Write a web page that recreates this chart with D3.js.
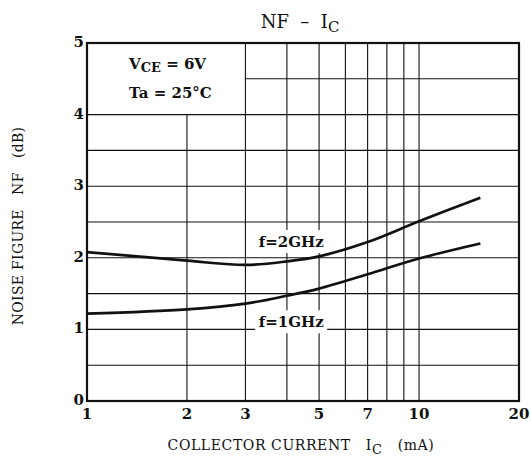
<!DOCTYPE html>
<html>
<head>
<meta charset="utf-8">
<script src="https://cdn.jsdelivr.net/npm/d3@7"></script>
<style>
  body { margin: 0; background: #fff; }
  svg text { font-family: "DejaVu Serif", "Liberation Serif", serif; fill: #111; white-space: pre; }
</style>
</head>
<body>
<svg id="chart" width="531" height="461"></svg>
<script>
// values
const currents = [1, 2, 3, 4, 5, 7, 10, 15.3];
const nf2GHz = [2.08, 1.96, 1.9, 1.95, 2.02, 2.22, 2.51, 2.84];
const nf1GHz = [1.22, 1.28, 1.36, 1.47, 1.57, 1.77, 1.99, 2.2];

const xTicks = [1, 2, 3, 5, 7, 10, 20];
const xGrid = [2, 3, 4, 5, 6, 7, 8, 9, 10];
const yTicks = [0, 1, 2, 3, 4, 5];
const yGrid = [0.5, 1, 1.5, 2, 2.5, 3, 3.5, 4, 4.5];

const svg = d3.select('#chart');
const plotLeft = 87, plotRight = 519, plotTop = 43, plotBottom = 401;

const x = d3.scaleLog().domain([1, 20]).range([plotLeft, plotRight]);
const y = d3.scaleLinear().domain([0, 5]).range([plotBottom, plotTop]);

// grid; the corner box with the conditions has no lines
const grid = svg.append('g').attr('stroke', '#111').attr('stroke-width', 1.1);

grid.selectAll('.hgrid')
  .data(yGrid)
  .enter().append('line')
  .attr('class', 'hgrid')
  .attr('x1', (d) => d > 4 ? x(3) : plotLeft)
  .attr('x2', plotRight)
  .attr('y1', (d) => y(d))
  .attr('y2', (d) => y(d));

grid.selectAll('.vgrid')
  .data(xGrid)
  .enter().append('line')
  .attr('class', 'vgrid')
  .attr('x1', (d) => x(d))
  .attr('x2', (d) => x(d))
  .attr('y1', (d) => d < 3 ? y(4) : plotTop)
  .attr('y2', plotBottom);

// curve labels knock out the grid behind them
const labels = [
  {text: 'f=2GHz', cx: 4.12, v: 2.15},
  {text: 'f=1GHz', cx: 4.12, v: 1.03}
];

const labelG = svg.selectAll('.curve-label')
  .data(labels)
  .enter().append('g')
  .attr('class', 'curve-label');

labelG.append('rect')
  .attr('x', (d) => x(d.cx) - 36)
  .attr('y', (d) => y(d.v) - 17)
  .attr('width', 72)
  .attr('height', 23)
  .attr('fill', '#fff');

labelG.append('text')
  .attr('x', (d) => x(d.cx))
  .attr('y', (d) => y(d.v))
  .attr('text-anchor', 'middle')
  .style('font-size', '15px')
  .style('font-weight', '600')
  .text((d) => d.text);

// frame
svg.append('rect')
  .attr('x', plotLeft).attr('y', plotTop)
  .attr('width', plotRight - plotLeft).attr('height', plotBottom - plotTop)
  .attr('fill', 'none').attr('stroke', '#111').attr('stroke-width', 2.2);

// curves
const line = d3.line()
  .x((d) => x(d[0]))
  .y((d) => y(d[1]))
  .curve(d3.curveCatmullRom.alpha(0.5));

[nf2GHz, nf1GHz].forEach((series) => {
  svg.append('path')
    .datum(currents.map((c, i) => [c, series[i]]))
    .attr('d', line)
    .attr('fill', 'none')
    .attr('stroke', '#111')
    .attr('stroke-width', 2.7);
});

// tick labels
svg.selectAll('.ylab')
  .data(yTicks)
  .enter().append('text')
  .attr('class', 'ylab')
  .attr('x', plotLeft - 3)
  .attr('y', (d) => y(d) + 4)
  .attr('text-anchor', 'end')
  .style('font-size', '15px')
  .style('font-weight', 'bold')
  .text((d) => d);

svg.selectAll('.xlab')
  .data(xTicks)
  .enter().append('text')
  .attr('class', 'xlab')
  .attr('x', (d) => x(d))
  .attr('y', plotBottom + 18)
  .attr('text-anchor', 'middle')
  .style('font-size', '15px')
  .style('font-weight', 'bold')
  .text((d) => d);

// title
const title = svg.append('text')
  .attr('x', 300).attr('y', 28)
  .attr('text-anchor', 'middle')
  .style('font-size', '18px');
title.append('tspan').text('NF  –  I');
title.append('tspan').attr('dy', 4).style('font-size', '15px').text('C');

// conditions
const cond = svg.append('g').style('font-size', '15px').style('font-weight', '600');
const vce = cond.append('text').attr('x', 129).attr('y', 69);
vce.append('tspan').text('V');
vce.append('tspan').attr('dy', 3).style('font-size', '13px').text('CE');
vce.append('tspan').attr('dy', -3).text(' = 6V');
cond.append('text').attr('x', 129).attr('y', 98).text('Ta = 25°C');

// axis titles
const xt = svg.append('text')
  .attr('x', 301).attr('y', 450)
  .attr('text-anchor', 'middle')
  .style('font-size', '14px')
  .style('letter-spacing', '0.6px');
xt.append('tspan').text('COLLECTOR CURRENT   I');
xt.append('tspan').attr('dy', 4).style('font-size', '13px').text('C');
xt.append('tspan').attr('dy', -4).text('   (mA)');

svg.append('text')
  .attr('transform', 'translate(23,226) rotate(-90)')
  .attr('text-anchor', 'middle')
  .style('font-size', '14px')
  .style('letter-spacing', '0.3px')
  .text('NOISE FIGURE   NF   (dB)');
</script>
</body>
</html>
